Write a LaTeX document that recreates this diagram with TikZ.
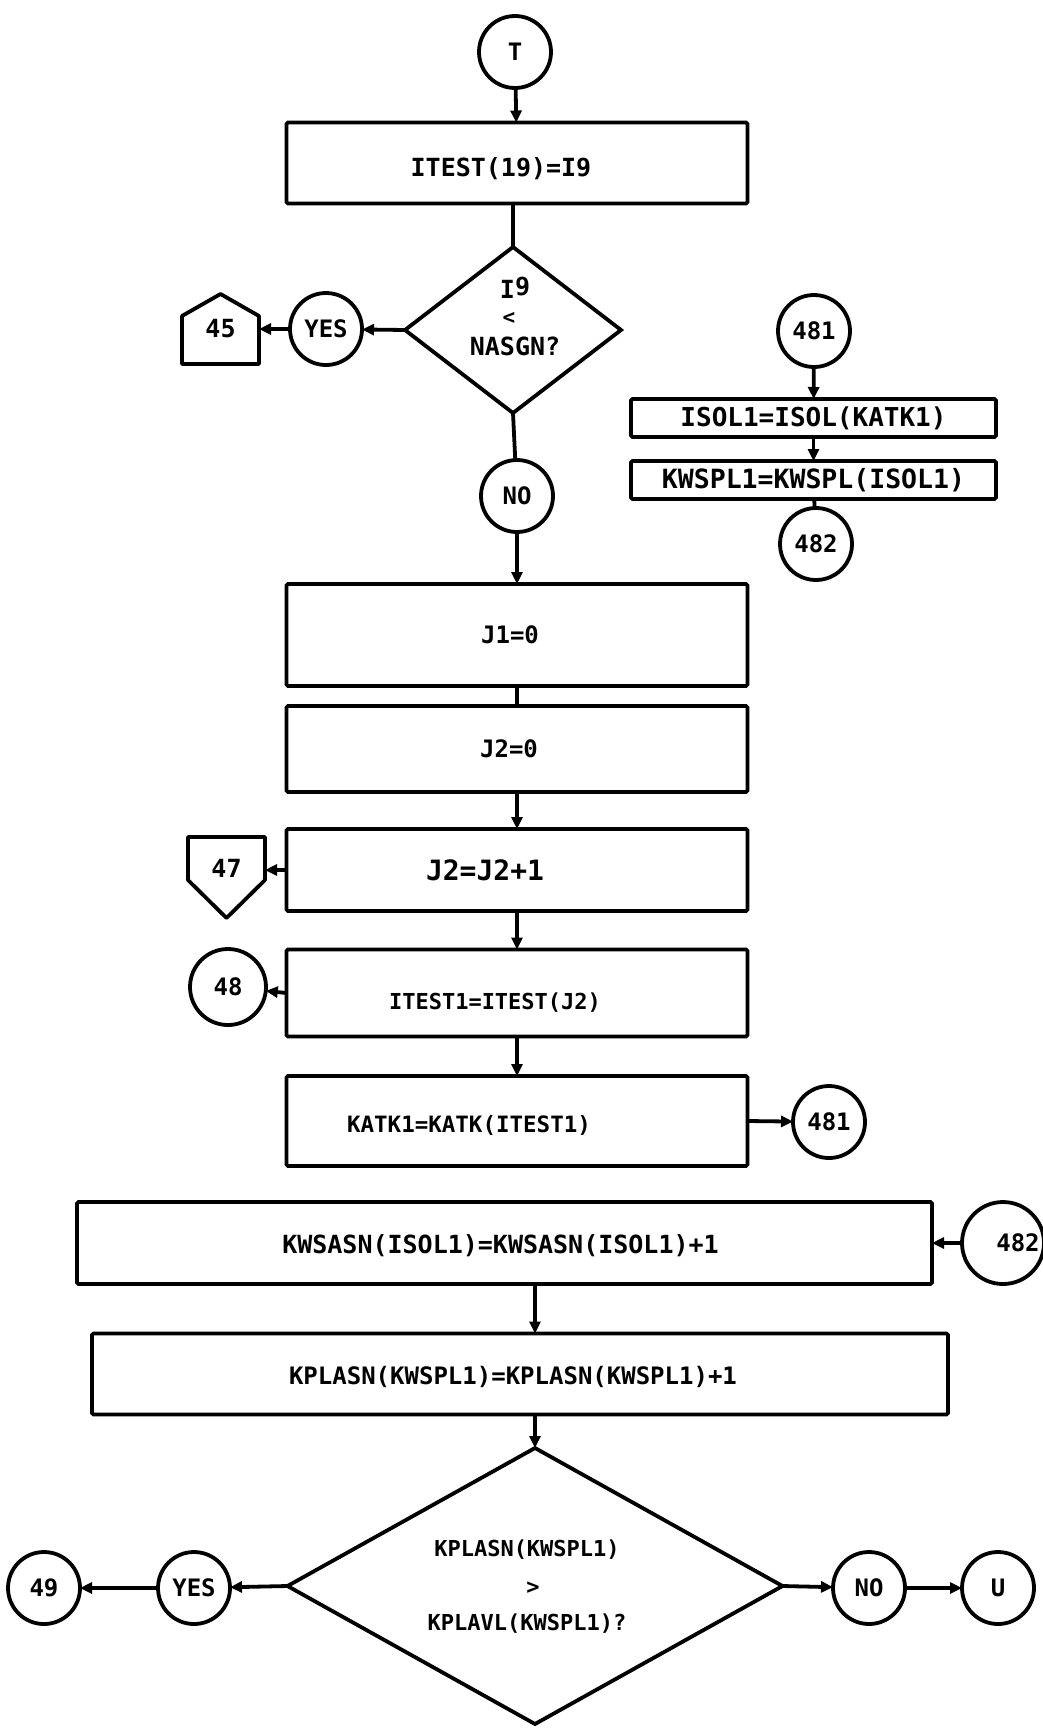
\documentclass[tikz,border=0pt]{standalone}
\usepackage{fontspec}
\newfontfamily\tw{DejaVu Sans Mono}
\usetikzlibrary{shapes.geometric,arrows.meta,calc}
\begin{document}
\begin{tikzpicture}[x=1pt,y=-1pt,
  ln/.style={line width=3.8pt},
  arr/.style={ln,-{Triangle[length=12pt,width=11pt]}},
  boxs/.style={draw,ln,rectangle,inner sep=0pt,outer sep=0pt,rounded corners=1.5pt},
  circ/.style={draw,ln,circle,minimum size=72pt,inner sep=0pt,outer sep=0pt,font=\tw\bfseries\fontsize{24}{28}\selectfont},
  dia/.style={draw,ln,diamond,inner sep=0pt,outer sep=0pt},
  helper/.style={inner sep=0pt,outer sep=0pt},
  txt/.style={font=\tw\bfseries\fontsize{25}{30}\selectfont,inner sep=0pt},
  dtxt/.style={font=\tw\bfseries\fontsize{22}{26}\selectfont,inner sep=0pt}
]
\useasboundingbox (0,0) rectangle (1043,1729);
% ---- top column
\node[circ] (T) at (515,52) {T};
\node[boxs,minimum width=461pt,minimum height=81pt] (b1) at (517,163) {};
\node[txt] at ([xshift=-16pt,yshift=-6pt]b1.center) {ITEST(19)=I9};
\node[dia,minimum width=216pt,minimum height=166pt] (d1) at (513,330) {};
\node[txt] at (515,288) {I\raisebox{3pt}{9}};
\node[txt,font=\tw\bfseries\fontsize{21}{24}\selectfont] at (509,318) {<};
\node[txt] at (515,346) {NASGN?};
\node[circ] (yes1) at (326,329) {YES};
\node[helper,minimum width=77pt,minimum height=70pt,txt] (p45) at (220.5,329) {45};
\draw[ln,line join=round] (p45.south west) -- (p45.south east) -- ([yshift=-22pt]p45.north east) -- (p45.north) -- ([yshift=-22pt]p45.north west) -- cycle;
\node[circ] (no1) at (517,496) {NO};
\node[boxs,minimum width=461pt,minimum height=102pt] (j1) at (517,635) {};
\node[txt,font=\tw\bfseries\fontsize{24}{28}\selectfont] at ([xshift=-7pt]j1.center) {J1=0};
\node[boxs,minimum width=461pt,minimum height=86pt] (j2) at (517,749) {};
\node[txt,font=\tw\bfseries\fontsize{24}{28}\selectfont] at ([xshift=-8pt]j2.center) {J2=0};
\node[boxs,minimum width=461pt,minimum height=82pt] (j2inc) at (517,870) {};
\node[txt,font=\tw\bfseries\fontsize{28}{32}\selectfont] at ([xshift=-32pt]j2inc.center) {J2=J2+1};
\node[helper,minimum width=77pt,minimum height=81pt] (p47) at (226.5,877.5) {};
\node[txt] at (226.5,868) {47};
\draw[ln,line join=round] (p47.north west) -- (p47.north east) -- ([yshift=38pt]p47.south east) -- (p47.south) -- ([yshift=38pt]p47.south west) -- cycle;
\node[boxs,minimum width=461pt,minimum height=87pt] (it1) at (517,993) {};
\node[txt,font=\tw\bfseries\fontsize{22}{26}\selectfont] at ([xshift=-22pt,yshift=-10pt]it1.center) {ITEST1=ITEST(J2)};
\node[circ,minimum size=76pt] (c48) at (228,987) {48};
\node[boxs,minimum width=461pt,minimum height=90pt] (katk) at (517,1121) {};
\node[txt,font=\tw\bfseries\fontsize{22.5}{26}\selectfont] at ([xshift=-48pt,yshift=-4pt]katk.center) {KATK1=KATK(ITEST1)};
\node[circ] (c481b) at (829,1122) {481};
% ---- right side group
\node[circ] (c481a) at (814,331) {481};
\node[boxs,minimum width=365pt,minimum height=38pt,txt,font=\tw\bfseries\fontsize{26}{30}\selectfont] (isol) at (813.5,418) {ISOL1=ISOL(KATK1)};
\node[boxs,minimum width=365pt,minimum height=38pt,txt,font=\tw\bfseries\fontsize{26.5}{30}\selectfont] (kwspl) at (813.5,480) {KWSPL1=KWSPL(ISOL1)};
\node[circ] (c482a) at (816,544) {482};
% ---- lower part
\node[boxs,minimum width=855pt,minimum height=82pt] (kws) at (504.5,1243) {};
\node[txt] at ([xshift=-4pt,yshift=-3pt]kws.center) {KWSASN(ISOL1)=KWSASN(ISOL1)+1};
\node[circ,minimum size=82pt] (c482b) at (1003,1243) {};
\node[txt,font=\tw\bfseries\fontsize{24}{28}\selectfont] at ([xshift=15pt]c482b.center) {482};
\node[boxs,minimum width=856pt,minimum height=81pt] (kpl) at (520,1374) {};
\node[txt,font=\tw\bfseries\fontsize{24}{28}\selectfont] at ([xshift=-7pt,yshift=-3pt]kpl.center) {KPLASN(KWSPL1)=KPLASN(KWSPL1)+1};
\node[dia,minimum width=495pt,minimum height=276pt] (d2) at (535,1586) {};
\node[dtxt] at (527,1550) {KPLASN(KWSPL1)};
\node[dtxt] at (533,1588) {>};
\node[dtxt] at (527,1624) {KPLAVL(KWSPL1)?};
\node[circ] (yes2) at (194,1588) {YES};
\node[circ] (c49) at (44,1588) {49};
\node[circ] (no2) at (869,1588) {NO};
\node[circ] (u) at (998,1588) {U};
% ---- connectors
\draw[arr] (T) -- (b1);
\draw[ln] (b1.south -| d1.north) -- (d1.north);
\draw[arr] (d1.west) -- (yes1);
\draw[arr] (yes1) -- (p45.east);
\draw[ln] (d1.south) -- (no1);
\draw[arr] (no1) -- (j1);
\draw[ln] (j1) -- (j2);
\draw[arr] (j2) -- (j2inc);
\draw[arr] (j2inc.west) -- (j2inc.west -| p47.east);
\draw[arr] (j2inc) -- (it1);
\draw[arr] (it1.west) -- (c48);
\draw[arr] (it1) -- (katk);
\draw[arr] (katk.east) -- (c481b);
\draw[arr] (c481a) -- (isol);
\draw[arr] (isol) -- (kwspl);
\draw[ln] (kwspl) -- (c482a);
\draw[arr] (c482b) -- (kws.east);
\draw[arr] (kws.south -| d2.north) -- (kpl.north -| d2.north);
\draw[arr] (kpl.south -| d2.north) -- (d2.north);
\draw[arr] (d2.west) -- (yes2);
\draw[arr] (yes2) -- (c49);
\draw[arr] (d2.east) -- (no2);
\draw[arr] (no2) -- (u);
\end{tikzpicture}
\end{document}
